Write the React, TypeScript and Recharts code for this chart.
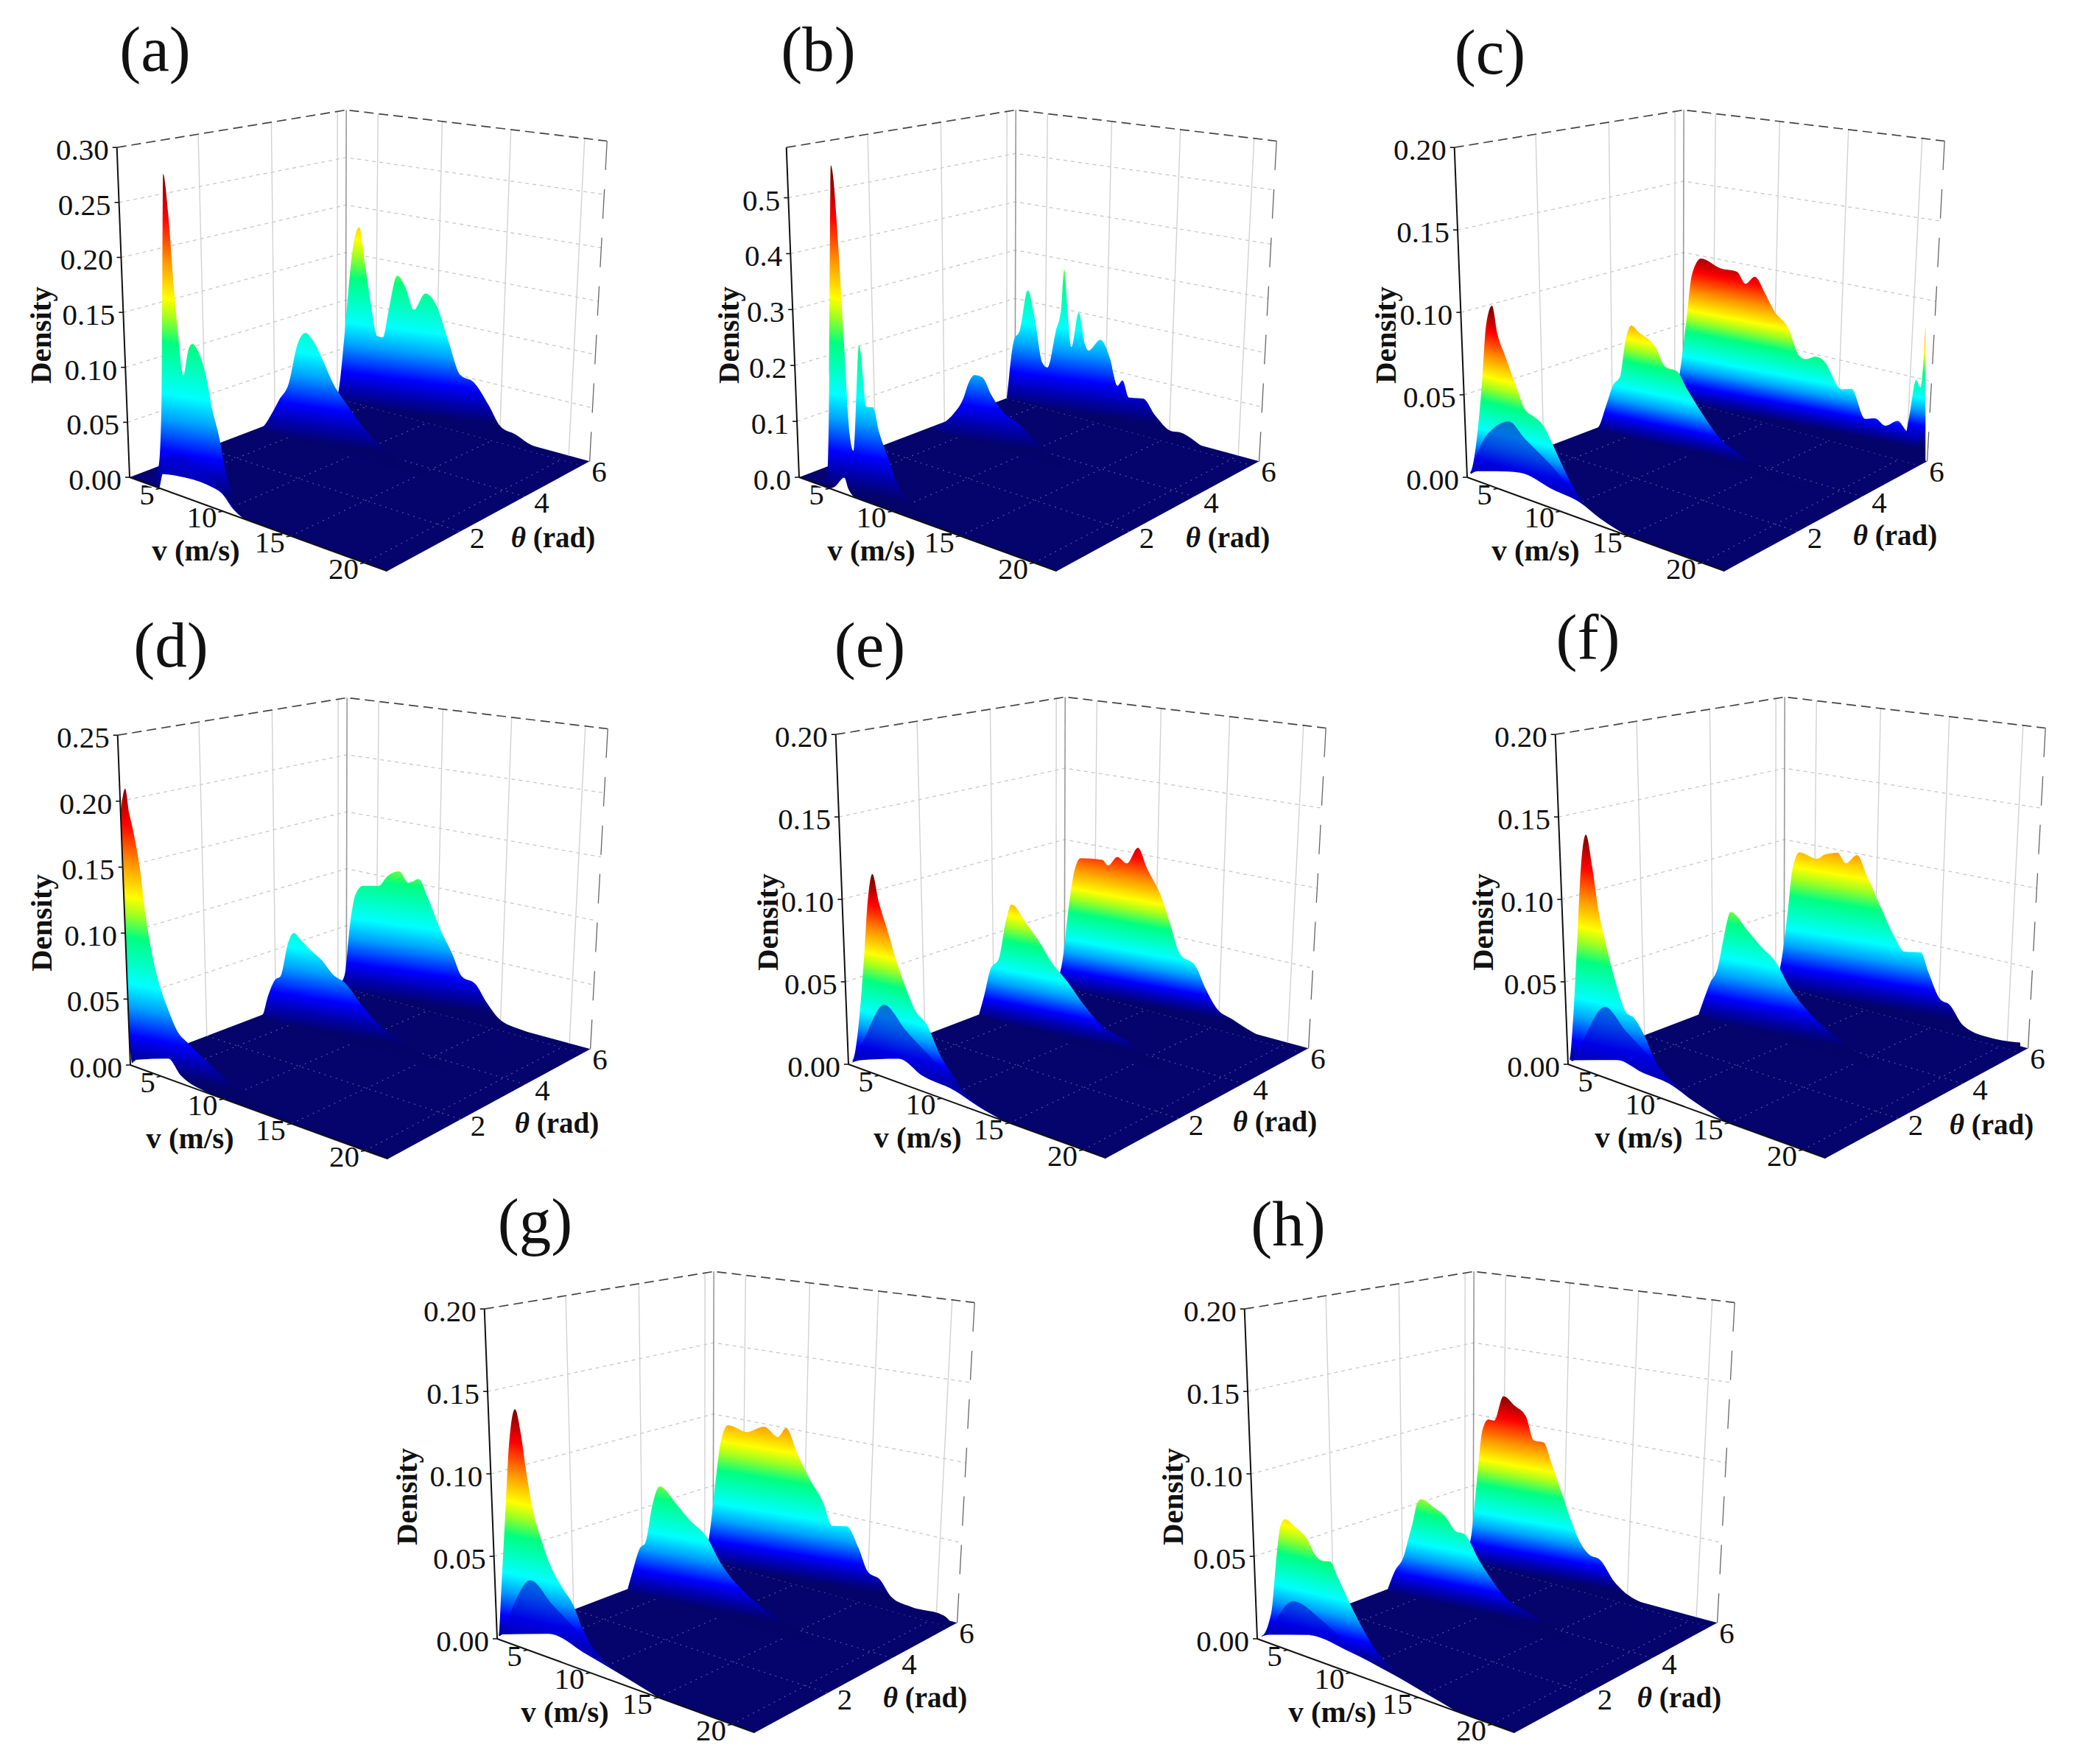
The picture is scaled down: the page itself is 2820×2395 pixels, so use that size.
import React from 'react';
import { Area, ComposedChart, Line, XAxis, YAxis } from 'recharts';

const ridgeA3 = [[2.4,0],[2.56,.016],[3.05,.076],[3.7,.158],[4.27,.183],[4.8,.144],[5.3,.105],[5.8,.075],[6.3,.075],[6.76,.102],[7.5,.141],[8.2,.13],[8.85,.11],[9.8,.129],[10.7,.119],[11.65,.086],[12.55,.056],[13.6,.052],[14.7,.034],[15.6,.016],[16.7,.012],[17.6,.007],[19.9,.004],[21.4,0]];
const ridgeA2 = [[2.4,0],[2.7,.002],[3.45,.017],[4.1,.033],[4.9,.051],[5.65,.092],[6.3,.105],[6.9,.1],[7.7,.084],[8.6,.063],[9.6,.048],[10.8,.032],[12,.02],[13.9,.01],[15.4,.007],[17,0]];
const ridgeA1 = [[2.4,0],[4.5,.006],[5,.02],[5.2,.07],[5.34,.281],[5.75,.247],[6.24,.18],[6.56,.142],[7,.106],[7.4,.13],[7.7,.136],[8.3,.128],[8.8,.111],[9.3,.083],[9.8,.0625],[10.2,.04],[10.6,.0225],[11.2,.006],[11.8,0]];
const archA = [[4.9,0],[5.2,.025],[6.7,.036],[8.5,.028],[9.8,.018],[11,.005],[11.6,0]];
const edgeA = [[2.4,0],[4.9,0],[5.2,.0136],[7,.0175],[9.2,.0174],[9.9,.0153],[10.8,.005],[11.6,0]];

const ridgeB3 = [[2.4,0],[2.5,.031],[3,.123],[3.5,.145],[4.2,.231],[4.8,.178],[5.45,.091],[5.9,.084],[6.6,.161],[7.05,.209],[7.3,.289],[7.55,.217],[7.9,.137],[8.5,.209],[9,.149],[9.3,.138],[10.25,.165],[11,.134],[11.6,.083],[12,.096],[12.5,.066],[13.6,.071],[14.5,.045],[15.7,.023],[16.4,.025],[18.1,.009],[21.3,0]];
const ridgeB2 = [[2.4,0],[3.75,.02],[4.5,.041],[5.3,.074],[5.8,.11],[6.25,.126],[6.9,.126],[7.65,.097],[8.6,.071],[9.85,.058],[11.1,.035],[12.3,.018],[13.6,.007],[15.5,0]];
const ridgeB1 = [[2.4,0],[4.5,.005],[4.9,.02],[5.05,.137],[5.2,.567],[5.85,.419],[6.3,.256],[6.75,.104],[7.05,.078],[7.5,.264],[8.1,.161],[8.6,.164],[9.1,.124],[9.7,.09],[10.6,.044],[11.5,.024],[12.7,.012],[14,0]];
const edgeB = [[2.4,0],[5,0],[5.4,.006],[6.2,.028],[6.5,.012],[7,0]];

const ridgeC4 = [[19.5,0],[20,.01],[20.4,.03],[20.8,.05],[21.1,.046],[21.45,.085]];
const ridgeC3 = [[2.4,0],[2.9,.024],[3.4,.058],[3.85,.088],[4.65,.101],[6.3,.097],[7.7,.097],[8.4,.09],[9.15,.096],[10,.086],[10.7,.076],[11.8,.067],[12.7,.05],[13.2,.049],[13.9,.052],[14.5,.051],[15.9,.035],[16.6,.037],[17.6,.02],[18.3,.022],[19.05,.019],[19.9,.024],[20.6,.019],[21.4,.02]];
const ridgeC2 = [[2.4,0],[2.55,.001],[3.15,.015],[3.8,.031],[4.4,.038],[4.85,.062],[5.35,.073],[5.95,.07],[7.35,.063],[8.15,.052],[9.1,.051],[9.85,.042],[11.25,.027],[12.5,.016],[13.8,.011],[15.6,.006],[16.9,.004],[19,0]];
const ridgeC1 = [[2.4,0],[2.5,.002],[3.1,.023],[3.6,.063],[3.9,.094],[4.4,.107],[4.85,.091],[5.5,.079],[6.45,.062],[7.1,.051],[7.9,.048],[8.55,.045],[9.2,.037],[10,.026],[10.8,.016],[12,.006],[13.2,.002],[14.6,0]];
const archC = [[2.6,0],[3.95,.028],[5.9,.042],[7.2,.035],[9.4,.024],[11.5,.01],[13,.004],[14.9,0]];
const edgeC = [[2.4,0],[3.3,.006],[4.9,.01],[6.8,.014],[9.4,.011],[11.5,.009],[13,.004],[14.9,0]];

const ridgeD3 = [[2.4,0],[2.95,.011],[3.4,.054],[3.9,.083],[4.55,.092],[5.9,.095],[6.65,.105],[7.6,.111],[8.4,.103],[9.2,.108],[10,.093],[10.9,.071],[11.9,.052],[12.6,.036],[13.7,.032],[14.5,.02],[15.35,.01],[17.2,.005],[19.8,.003],[21.4,0]];
const ridgeD2 = [[2.4,0],[2.6,.001],[3.05,.017],[3.7,.033],[4.15,.037],[4.8,.066],[5.25,.075],[5.85,.071],[6.65,.065],[7.6,.059],[8.5,.05],[9.45,.046],[10.7,.033],[12.6,.018],[13.85,.014],[15.7,.006],[18,0]];
const ridgeD1 = [[1.6,.187],[2,.208],[2.35,.19],[2.65,.179],[3.3,.148],[3.8,.113],[4.4,.084],[5.1,.062],[5.7,.049],[6.35,.037],[7.3,.03],[8.3,.024],[9.6,.017],[10.8,.011],[12.6,.006],[15,.001],[16.7,0]];
const edgeD = [[2.4,0],[3,.006],[5.6,.015],[6.6,.006],[8.2,.001],[9.5,0]];

const ridgeE3 = [[2.4,0],[2.95,.02],[3.4,.052],[3.9,.08],[4.5,.092],[6.35,.094],[6.85,.091],[7.6,.098],[8.4,.095],[9.3,.107],[10,.095],[11.25,.076],[11.9,.06],[12.6,.043],[13.85,.037],[14.6,.024],[15.35,.014],[16.6,.009],[18.6,.003],[21.4,0]];
const ridgeE2 = [[2.4,0],[2.9,.013],[3.5,.033],[4.15,.04],[4.8,.067],[5.25,.078],[6.5,.068],[7.6,.058],[8.5,.048],[9.8,.038],[11,.027],[12.6,.016],[14.2,.012],[15.7,.007],[18.5,0]];
const ridgeE1 = [[2.4,0],[2.65,.002],[3.15,.022],[3.6,.061],[3.95,.1],[4.35,.118],[4.9,.102],[5.55,.088],[6.35,.07],[7.15,.055],[7.8,.045],[8.8,.038],[9.75,.024],[10.9,.013],[12,.005],[13.5,0]];
const archE = [[2.6,0],[3.7,.018],[5.4,.043],[7.2,.032],[10,.017],[12.1,.006],[14.5,0]];
const edgeE = [[2.4,0],[3.4,.005],[6.6,.014],[8.5,.009],[11,.007],[12.7,.003],[14.5,0]];

const ridgeF3 = [[2.4,0],[2.9,.02],[3.4,.052],[3.85,.084],[4.45,.096],[5.95,.094],[6.6,.098],[7.65,.101],[8.35,.095],[9.25,.102],[10.1,.089],[11.2,.07],[12.25,.053],[13,.045],[14.25,.047],[14.85,.035],[15.7,.02],[16.4,.018],[17.4,.007],[19.7,.004],[21.4,.006]];
const ridgeF2 = [[2.4,0],[3,.013],[3.45,.023],[4.1,.034],[4.7,.058],[5.2,.073],[6.6,.064],[7.7,.056],[8.95,.048],[10,.035],[11.6,.022],[13.15,.014],[15,.007],[17.5,0]];
const ridgeF1 = [[2.4,0],[2.5,.002],[2.85,.031],[3.2,.08],[3.5,.122],[3.9,.141],[4.45,.122],[4.95,.098],[5.6,.078],[6.4,.057],[7.2,.042],[7.85,.04],[8.65,.032],[9.6,.018],[10.9,.009],[12.4,.002],[14.2,0]];
const archF = [[2.6,0],[3.7,.018],[5.5,.042],[7.2,.032],[10,.017],[12,.006],[14.6,0]];
const edgeF = [[2.4,0],[3,.004],[6.5,.013],[8.5,.011],[10.6,.01],[12.4,.005],[14.6,0]];

const ridgeG3 = [[2.4,0],[2.8,.02],[3.3,.056],[3.75,.084],[4.4,.097],[6,.095],[7.45,.101],[8.6,.096],[9.25,.103],[10.2,.087],[11.1,.073],[12.2,.059],[12.9,.045],[14,.047],[14.9,.035],[15.6,.021],[16.5,.018],[17.3,.009],[18.7,.006],[21,.006],[21.4,.004]];
const ridgeG2 = [[2.4,0],[2.9,.013],[3.5,.029],[4,.034],[4.6,.06],[5.2,.073],[6.65,.064],[7.75,.056],[9,.049],[10.2,.034],[12.1,.02],[14,.012],[15.55,.008],[18,0]];
const ridgeG1 = [[2.4,0],[2.5,.001],[2.75,.031],[3.1,.079],[3.4,.119],[3.9,.141],[4.4,.127],[4.85,.105],[5.35,.085],[6.15,.066],[6.8,.054],[7.75,.043],[8.7,.034],[9.35,.023],[10.8,.009],[12.6,.003],[14.6,0]];
const archG = [[2.6,0],[3.5,.018],[5.2,.042],[7,.032],[10,.016],[12,.005],[15,0]];
const edgeG = [[2.4,0],[2.9,.004],[6.7,.014],[9.6,.01],[11.9,.006],[15,0]];

const ridgeH3 = [[2.4,0],[2.95,.02],[3.4,.056],[3.9,.093],[4.4,.101],[4.9,.101],[5.7,.119],[6.65,.114],[7.6,.108],[8.25,.093],[9.05,.093],[9.7,.08],[10.5,.062],[11.25,.045],[11.9,.033],[12.6,.026],[13.5,.024],[14.6,.012],[15.2,.008],[16.9,.003],[19.8,.002],[21.4,0]];
const ridgeH2 = [[2.4,0],[3.05,.013],[3.85,.025],[4.3,.039],[4.6,.048],[4.95,.061],[5.3,.065],[6.35,.062],[7.3,.058],[8.2,.05],[8.8,.05],[10.1,.035],[12.3,.016],[13.85,.012],[15.7,.007],[18,0]];
const ridgeH1 = [[2.4,0],[2.55,.001],[3.4,.017],[3.85,.052],[4.2,.072],[4.55,.076],[5.45,.073],[6.4,.068],[7.05,.06],[7.7,.058],[8.2,.059],[8.85,.051],[9.65,.04],[10.6,.028],[11.8,.016],[13.3,.008],[14.8,.003],[16.4,0]];
const archH = [[2.6,0],[3.7,.012],[5.4,.03],[7.9,.024],[10.6,.012],[13,.005],[17.6,0]];
const edgeH = [[2.4,0],[3.4,.005],[6.6,.013],[9.9,.012],[13,.008],[16.5,.002],[17.6,0]];

const ticksA = ['0.00', '0.05', '0.10', '0.15', '0.20', '0.25', '0.30'];
const ticksB = ['0.0', '0.1', '0.2', '0.3', '0.4', '0.5'];
const ticksC = ['0.00', '0.05', '0.10', '0.15', '0.20'];
const ticksD = ['0.00', '0.05', '0.10', '0.15', '0.20', '0.25'];
const speedTicks = [5, 10, 15, 20];
const angleTicks = [2, 4, 6];

const V_MIN = 2.4;
const V_MAX = 21.45;
const THETA_MAX = 6.2832;
const W = 900;
const H = 820;
const OX = 190;
const OY = 660;

const panels = [
  { name: 'a', left: 175.5, top: 648, max: 0.3, peak: 0.285, ticks: ticksA, ridges: [[6, ridgeA3], [3.55, ridgeA2], [0.12, ridgeA1]], arch: archA, edge: edgeA, title: [34.5, -576], density: -116, speed: 90, angle: 575, angleY: 83 },
  { name: 'b', left: 1085, top: 648, max: 0.59, peak: 0.56, ticks: ticksB, ridges: [[6, ridgeB3], [3.55, ridgeB2], [0.12, ridgeB1]], arch: null, edge: edgeB, title: [26, -576], density: -91, speed: 98, angle: 582, angleY: 83 },
  { name: 'c', left: 1992, top: 648, max: 0.2, peak: 0.107, ticks: ticksC, ridges: [[6.2, ridgeC4], [6, ridgeC3], [3.55, ridgeC2], [0.12, ridgeC1]], arch: archC, edge: edgeC, title: [31, -572], density: -106, speed: 93, angle: 581, angleY: 80 },
  { name: 'd', left: 177, top: 1446, max: 0.25, peak: 0.215, ticks: ticksD, ridges: [[6, ridgeD3], [3.55, ridgeD2], [0.12, ridgeD1]], arch: null, edge: edgeD, title: [55, -565], density: -116, speed: 81, angle: 579, angleY: 80 },
  { name: 'e', left: 1152, top: 1445, max: 0.2, peak: 0.118, ticks: ticksC, ridges: [[6, ridgeE3], [3.55, ridgeE2], [0.12, ridgeE1]], arch: archE, edge: edgeE, title: [29, -564], density: -105, speed: 94, angle: 579, angleY: 79 },
  { name: 'f', left: 2129, top: 1445, max: 0.2, peak: 0.143, ticks: ticksC, ridges: [[6, ridgeF3], [3.55, ridgeF2], [0.12, ridgeF1]], arch: archF, edge: edgeF, title: [27, -575], density: -111, speed: 96, angle: 575, angleY: 83 },
  { name: 'g', left: 674.5, top: 2225, max: 0.2, peak: 0.143, ticks: ticksC, ridges: [[6, ridgeG3], [3.55, ridgeG2], [0.12, ridgeG1]], arch: archG, edge: edgeG, title: [51.5, -562], density: -118, speed: 92, angle: 581, angleY: 81 },
  { name: 'h', left: 1707, top: 2225, max: 0.2, peak: 0.122, ticks: ticksC, ridges: [[6, ridgeH3], [3.55, ridgeH2], [0.12, ridgeH1]], arch: archH, edge: edgeH, title: [42, -558], density: -110, speed: 102, angle: 573, angleY: 81 },
];

const jet = [
  [0, '#03036a'], [0.06, '#0000b0'], [0.12, '#0000ff'], [0.22, '#00a0ff'], [0.3, '#00ffff'],
  [0.46, '#00ff80'], [0.54, '#a0ff20'], [0.6, '#ffff00'], [0.72, '#ff9000'], [0.85, '#ff0000'], [1, '#700000'],
];

// perspective map of the unit square, floor and roof share the same camera terms
const G = -0.145;
const K_H = 0.1754;
const quad = (p00, p11, p01) => {
  const c = p00;
  const b = [p01[0] * (1 + K_H) - c[0], p01[1] * (1 + K_H) - c[1]];
  const a = [p11[0] * (1 + G + K_H) - b[0] - c[0], p11[1] * (1 + G + K_H) - b[1] - c[1]];
  return (s, t) => {
    const w = G * s + K_H * t + 1;
    return [(a[0] * s + b[0] * t + c[0]) / w, (a[1] * s + b[1] * t + c[1]) / w];
  };
};

const floorAt = quad([OX, OY], [OX + 624.6, OY - 21.7], [OX + 293.2, OY - 111.7]);
const roofAt = quad([OX - 17.3, OY - 447.8], [OX + 648.2, OY - 456.5], [OX + 294.2, OY - 498.7]);
const sOf = (v) => (v - V_MIN) / (V_MAX - V_MIN);
const tOf = (a) => a / THETA_MAX;
const at3d = (s, t, f) => {
  const p = floorAt(s, t);
  const q = roofAt(s, t);
  return { x: p[0] + (q[0] - p[0]) * f, y: H - (p[1] + (q[1] - p[1]) * f) };
};

const AXIS_FOOT = at3d(0, 0, 0);
const AXIS_HEAD = at3d(0, 0, 1);

// left of the density axis the slice stops at the axis line instead of the floor
const sliceRows = (ridge, theta, max, lean) =>
  ridge.map(([v, d]) => {
    const s = sOf(v);
    const t = tOf(theta);
    const low = at3d(s, t, 0);
    const high = at3d(s, t, d / max);
    const x = d > 0 ? low.x + lean : low.x;
    const bottom = d > 0 && x < AXIS_FOOT.x
      ? AXIS_FOOT.y + ((AXIS_HEAD.y - AXIS_FOOT.y) * (x - AXIS_FOOT.x)) / (AXIS_HEAD.x - AXIS_FOOT.x)
      : low.y;
    return { x, band: [bottom, Math.max(high.y, bottom)] };
  });

const gradientFor = (theta, peak, max) => {
  const t = tOf(theta);
  const a = at3d(0, t, peak / max);
  const b = at3d(1, t, peak / max);
  const len = Math.hypot(b.x - a.x, b.y - a.y);
  const nx = (a.y - b.y) / len;
  const ny = (b.x - a.x) / len;
  const p = at3d(0.2, t, 0);
  const q = at3d(0.2, t, peak / max);
  const dist = (q.x - p.x) * nx + (q.y - p.y) * ny;
  return { x1: p.x, y1: H - p.y, x2: p.x + nx * dist, y2: H - (p.y + ny * dist) };
};

const SERIF = '"Liberation Serif", "Times New Roman", serif';

function Panel({ cfg }) {
  const { name, max, peak, ticks, ridges, edge, arch } = cfg;
  const levels = ticks.map(Number).filter((d) => d > 0 && d < max);
  const L = at3d(0, 0, 0);
  const K = at3d(0, 1, 0);
  const B = at3d(1, 0, 0);
  const R = at3d(1, 1, 0);
  const TL = at3d(0, 0, 1);
  const TK = at3d(0, 1, 1);
  const TR = at3d(1, 1, 1);
  const lerpY = (a, b, x) => a.y + ((b.y - a.y) * (x - a.x)) / (b.x - a.x);
  const floorRows = [
    { x: L.x, band: [L.y, L.y] },
    { x: K.x, band: [lerpY(L, B, K.x), K.y] },
    { x: B.x, band: [B.y, lerpY(K, R, B.x)] },
    { x: R.x, band: [R.y, R.y] },
  ];
  const frontRows = (list) =>
    list.map(([v, d]) => {
      const low = at3d(sOf(v), 0, 0);
      const high = at3d(sOf(v), 0, d / max);
      return { x: low.x, band: [low.y, high.y] };
    });
  const lineProps = { dataKey: 'y', dot: false, activeDot: false, isAnimationActive: false, type: 'linear', legendType: 'none' };
  const axisText = { fontFamily: SERIF, fill: '#111' };
  return (
    <div style={{ position: 'absolute', left: cfg.left - OX, top: cfg.top - OY, width: W, height: H }}>
      <ComposedChart width={W} height={H} margin={{ top: 0, right: 0, bottom: 0, left: 0 }}>
        <defs>
          {ridges.map(([theta], i) => (
            <linearGradient key={i} id={`jet-${name}-${i}`} gradientUnits="userSpaceOnUse" {...gradientFor(theta, peak, max)}>
              {jet.map(([o, c]) => (
                <stop key={o} offset={o} stopColor={c} />
              ))}
            </linearGradient>
          ))}
        </defs>
        <XAxis type="number" dataKey="x" domain={[0, W]} hide allowDataOverflow />
        <YAxis type="number" domain={[0, H]} hide allowDataOverflow />

        {/* walls */}
        {levels.map((d) => (
          <Line key={`lvl${d}`} {...lineProps} zIndex={1} data={[at3d(0, 0, d / max), at3d(0, 1, d / max), at3d(1, 1, d / max)]} stroke="#c8c8c8" strokeWidth={1.3} strokeDasharray="5 5" />
        ))}
        {angleTicks.map((a) => (
          <Line key={`wa${a}`} {...lineProps} zIndex={1} data={[at3d(0, tOf(a), 0), at3d(0, tOf(a), 1)]} stroke="#d2d2d2" strokeWidth={1.4} />
        ))}
        {speedTicks.map((v) => (
          <Line key={`wv${v}`} {...lineProps} zIndex={1} data={[at3d(sOf(v), 1, 0), at3d(sOf(v), 1, 1)]} stroke="#d2d2d2" strokeWidth={1.4} />
        ))}
        <Line {...lineProps} zIndex={1} data={[K, TK]} stroke="#999" strokeWidth={1.6} />
        <Line {...lineProps} zIndex={1} data={[R, TR]} stroke="#666" strokeWidth={1.3} strokeDasharray="40 26" />
        <Line {...lineProps} zIndex={1} data={[TL, TK, TR]} stroke="#444" strokeWidth={1.7} strokeDasharray="13 7" />

        {/* floor */}
        <Area dataKey="band" data={floorRows} type="linear" zIndex={2} fill="#04046c" fillOpacity={1} stroke="none" isAnimationActive={false} legendType="none" />
        {speedTicks.map((v) => (
          <Line key={`fv${v}`} {...lineProps} zIndex={3} data={[at3d(sOf(v), 0, 0), at3d(sOf(v), 1, 0)]} stroke="#ffffff" strokeOpacity={0.32} strokeWidth={1.2} strokeDasharray="2 6" />
        ))}
        {angleTicks.map((a) => (
          <Line key={`fa${a}`} {...lineProps} zIndex={3} data={[at3d(0, tOf(a), 0), at3d(1, tOf(a), 0)]} stroke="#ffffff" strokeOpacity={0.32} strokeWidth={1.2} strokeDasharray="2 6" />
        ))}

        {/* surface, painted from the far slice to the near one */}
        {ridges.map(([theta, ridge], i) => {
          const t = tOf(theta);
          const top = Math.max(...ridge.map((p) => p[1]));
          const lean = (at3d(0.1, t, 1).x - at3d(0.1, t, 0).x) * (top / max) * 0.6;
          return (
            <Area key={i} dataKey="band" data={sliceRows(ridge, theta, max, lean)} type="monotone" zIndex={10 + i} fill={`url(#jet-${name}-${i})`} fillOpacity={1} stroke="none" isAnimationActive={false} legendType="none" />
          );
        })}
        {arch && (
          <Area dataKey="band" data={frontRows(arch)} type="monotone" zIndex={29} fill="#0000d0" fillOpacity={0.55} stroke="none" isAnimationActive={false} legendType="none" />
        )}
        <Area dataKey="band" data={frontRows(edge)} type="monotone" zIndex={30} fill="#ffffff" fillOpacity={1} stroke="none" isAnimationActive={false} legendType="none" />

        {/* axes */}
        <Line {...lineProps} zIndex={40} data={[TL, L]} stroke="#111" strokeWidth={2} />
        <Line {...lineProps} zIndex={40} data={[L, B]} stroke="#111" strokeWidth={2} />
        {ticks.map((label) => {
          const p = at3d(0, 0, Number(label) / max);
          return <Line key={`tk${label}`} {...lineProps} zIndex={40} data={[{ x: p.x - 6, y: p.y }, p]} stroke="#111" strokeWidth={1.6} />;
        })}
        {speedTicks.map((v) => {
          const p = at3d(sOf(v), 0, 0);
          return <Line key={`tv${v}`} {...lineProps} zIndex={40} data={[{ x: p.x - 6, y: p.y - 1 }, p]} stroke="#111" strokeWidth={1.6} />;
        })}

        {ticks.map((label) => {
          const p = at3d(0, 0, Number(label) / max);
          return (
            <text key={label} x={p.x - 11} y={H - p.y + 17} textAnchor="end" fontSize={41} {...axisText}>
              {label}
            </text>
          );
        })}
        {speedTicks.map((v) => {
          const p = at3d(sOf(v), 0, 0);
          return (
            <text key={v} x={p.x - 8} y={H - p.y + 22} textAnchor="end" fontSize={41} {...axisText}>
              {v}
            </text>
          );
        })}
        {angleTicks.map((a) => {
          const p = at3d(1, tOf(a), 0);
          return (
            <text key={a} x={p.x + 13} y={H - p.y + 22} fontSize={41} {...axisText}>
              {a}
            </text>
          );
        })}
        <text x={OX + cfg.density} y={OY - 193} textAnchor="middle" fontSize={41} fontWeight="bold" transform={`rotate(-90 ${OX + cfg.density} ${OY - 193})`} dominantBaseline="middle" {...axisText}>
          Density
        </text>
        <text x={OX + cfg.speed} y={OY + 113} textAnchor="middle" fontSize={41} fontWeight="bold" {...axisText}>
          v (m/s)
        </text>
        <text x={OX + cfg.angle} y={OY + cfg.angleY + 12} textAnchor="middle" fontSize={39} fontWeight="bold" {...axisText}>
          <tspan fontStyle="italic">θ</tspan> (rad)
        </text>
        <text x={OX + cfg.title[0]} y={OY + cfg.title[1] + 24} textAnchor="middle" fontSize={87} {...axisText}>
          {`(${name})`}
        </text>
      </ComposedChart>
    </div>
  );
}

export default function App() {
  return (
    <div style={{ position: 'absolute', left: 0, top: 0, width: 2820, height: 2395, background: '#fff', overflow: 'hidden' }}>
      {panels.map((cfg) => (
        <Panel key={cfg.name} cfg={cfg} />
      ))}
    </div>
  );
}
